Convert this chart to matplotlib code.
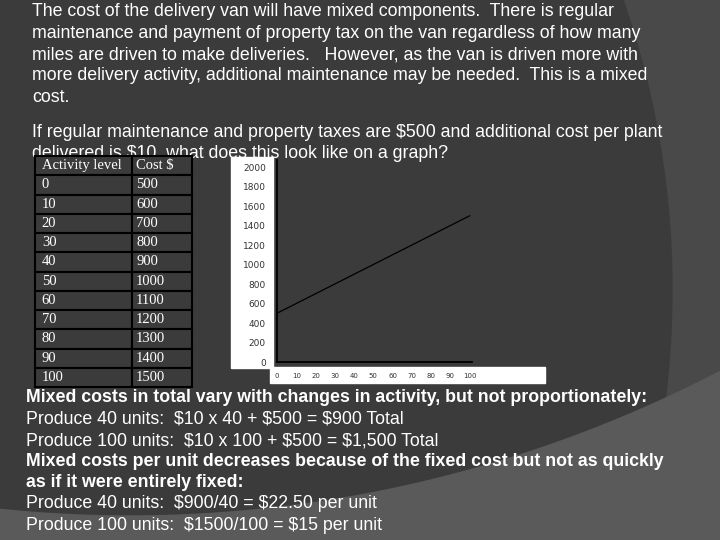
import numpy as np
import matplotlib.pyplot as plt
from matplotlib.patches import Rectangle, Circle, Polygon

# data shown in the table and the chart
activity = [0, 10, 20, 30, 40, 50, 60, 70, 80, 90, 100]
cost = [500, 600, 700, 800, 900, 1000, 1100, 1200, 1300, 1400, 1500]
y_ticks = [0, 200, 400, 600, 800, 1000, 1200, 1400, 1600, 1800, 2000]
col_labels = ["Activity level", "Cost $"]

intro_lines = [
    "The cost of the delivery van will have mixed components.  There is regular",
    "maintenance and payment of property tax on the van regardless of how many",
    "miles are driven to make deliveries.   However, as the van is driven more with",
    "more delivery activity, additional maintenance may be needed.  This is a mixed",
    "cost.",
    "If regular maintenance and property taxes are $500 and additional cost per plant",
    "delivered is $10, what does this look like on a graph?",
]
intro_base = [16, 37.5, 59, 80.5, 102, 137, 158.5]

summary_lines = [
    "Mixed costs in total vary with changes in activity, but not proportionately:",
    "Produce 40 units:  $10 x 40 + $500 = $900 Total",
    "Produce 100 units:  $10 x 100 + $500 = $1,500 Total",
    "Mixed costs per unit decreases because of the fixed cost but not as quickly",
    "as if it were entirely fixed:",
    "Produce 40 units:  $900/40 = $22.50 per unit",
    "Produce 100 units:  $1500/100 = $15 per unit",
]
summary_bold = [True, False, False, True, True, False, False]
summary_base = [402, 423.5, 445, 466, 487, 508.5, 530]

DARK = "#3b3b3b"

fig = plt.figure(figsize=(7.2, 5.4), dpi=100)

# slide background, in pixel units (y downwards)
bg = fig.add_axes([0, 0, 1, 1], zorder=0)
bg.set_xlim(0, 720)
bg.set_ylim(540, 0)
bg.axis("off")
bg.add_patch(Rectangle((0, 0), 720, 540, color="#494949", zorder=0))
bg.add_patch(Circle((-211, 290), 883, color=DARK, zorder=0.5))
xs = np.linspace(0, 720, 300)
ys = -760 + np.sqrt(1276 ** 2 - (xs - 130) ** 2)
band = np.column_stack([np.r_[xs, 720, 0], np.r_[ys, 540, 540]])
bg.add_patch(Polygon(band, closed=True, color="#5a5a5a", zorder=0.8))

# white label panels of the pasted chart
bg.add_patch(Rectangle((231, 157), 42, 211, color="white", zorder=4))
bg.add_patch(Rectangle((270, 367), 275, 16, color="white", zorder=4))

for line, yb in zip(intro_lines, intro_base):
    bg.text(32, yb, line, color="white", fontsize=12.8, family="Liberation Sans",
            va="baseline", zorder=2, parse_math=False)

for line, yb, bold in zip(summary_lines, summary_base, summary_bold):
    bg.text(26, yb, line, color="white", fontsize=12.8, family="Liberation Sans",
            fontweight="bold" if bold else "normal", va="baseline", zorder=2,
            parse_math=False)

# table
cell_text = [[str(a), str(c)] for a, c in zip(activity, cost)]
tbl = bg.table(cellText=cell_text, colLabels=col_labels, cellLoc="left",
               colLoc="left", colWidths=[97, 60],
               bbox=[35 / 720, (540 - 387) / 540, 157 / 720, 231 / 540])
tbl.auto_set_font_size(False)
tbl.set_zorder(5)
for cell in tbl.get_celld().values():
    cell.set_facecolor(DARK)
    cell.set_edgecolor("black")
    cell.set_linewidth(1.5)
    cell.PAD = 0.07
    cell.get_text().set_color("white")
    cell.get_text().set_fontfamily("Liberation Serif")
    cell.get_text().set_fontsize(10.5)
    cell.get_text().set_parse_math(False)

# chart
ax = fig.add_axes([277 / 720, (540 - 362) / 540, (472 - 277) / 720, (362 - 160) / 540],
                  zorder=1)
ax.patch.set_alpha(0)
ax.plot(activity, cost, color="black", lw=0.9)
ax.set_xlim(0, 101.2)
ax.set_ylim(0, 2072)
ax.set_xticks(activity)
ax.set_yticks(y_ticks)
for s in ["top", "right"]:
    ax.spines[s].set_visible(False)
for s in ["left", "bottom"]:
    ax.spines[s].set_color("black")
    ax.spines[s].set_linewidth(1.3)
ax.tick_params(axis="y", length=0, pad=8, labelsize=6.5, labelcolor="#333333")
ax.tick_params(axis="x", length=0, pad=8, labelsize=5, labelcolor="#333333")

fig.savefig("out.png", dpi=100, facecolor=DARK)
